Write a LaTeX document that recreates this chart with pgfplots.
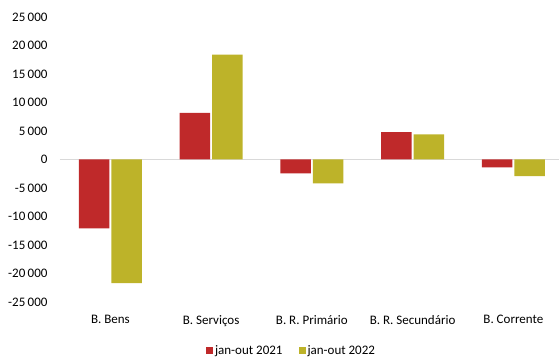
\documentclass[border=0pt]{standalone}
\usepackage{pgfplots}
\pgfplotsset{compat=1.18}
\usepackage{fontspec}
\setmainfont{Carlito}
\definecolor{cred}{RGB}{191,41,42}
\definecolor{colive}{RGB}{189,179,41}
\definecolor{zline}{RGB}{217,217,217}
\begin{document}
\begin{tikzpicture}
\begin{axis}[
  at={(0pt,0pt)}, anchor=south west,
  scale only axis,
  width=499pt, height=285pt,
  ybar=2pt, bar width=30.5pt,
  xmin=-0.5, xmax=4.453,
  ymin=-25000, ymax=25000,
  ytick={-25000,-20000,...,25000},
  xtick=data,
  xticklabels={B. Bens, B. Serviços, B. R. Primário, B. R. Secundário, B. Corrente},
  axis line style={draw=none},
  major tick length=0pt,
  /pgf/number format/assume math mode=true,
  /pgf/number format/1000 sep={\hspace{0.18em}},
  scaled y ticks=false,
  tick label style={font=\fontsize{13}{15}\selectfont},
  yticklabel style={xshift=-9pt},
  xticklabel style={yshift=-10pt},
  extra y ticks={0},
  extra y tick labels={},
  extra y tick style={grid=major, major grid style={draw=zline, line width=1pt}},
  legend style={draw=none, at={(0.464,-0.145)}, anchor=north,
    font=\fontsize{13}{15}\selectfont, legend columns=-1,
    /tikz/every even column/.append style={column sep=14pt},
    inner sep=0pt},
  legend image code/.code={\fill[#1, draw=none] (0pt,-3.5pt) rectangle (7pt,3.5pt);},
  legend cell align=left,
]
\addplot[fill=cred, draw=none] coordinates {(0,-12100) (1,8200) (2,-2450) (3,4800) (4,-1400)};
\addplot[fill=colive, draw=none] coordinates {(0,-21700) (1,18400) (2,-4200) (3,4400) (4,-2900)};
\legend{jan-out 2021, jan-out 2022}
\end{axis}
\pgfresetboundingbox
\path[use as bounding box] (-60pt,-56pt) rectangle (499pt,302pt);
\end{tikzpicture}
\end{document}
